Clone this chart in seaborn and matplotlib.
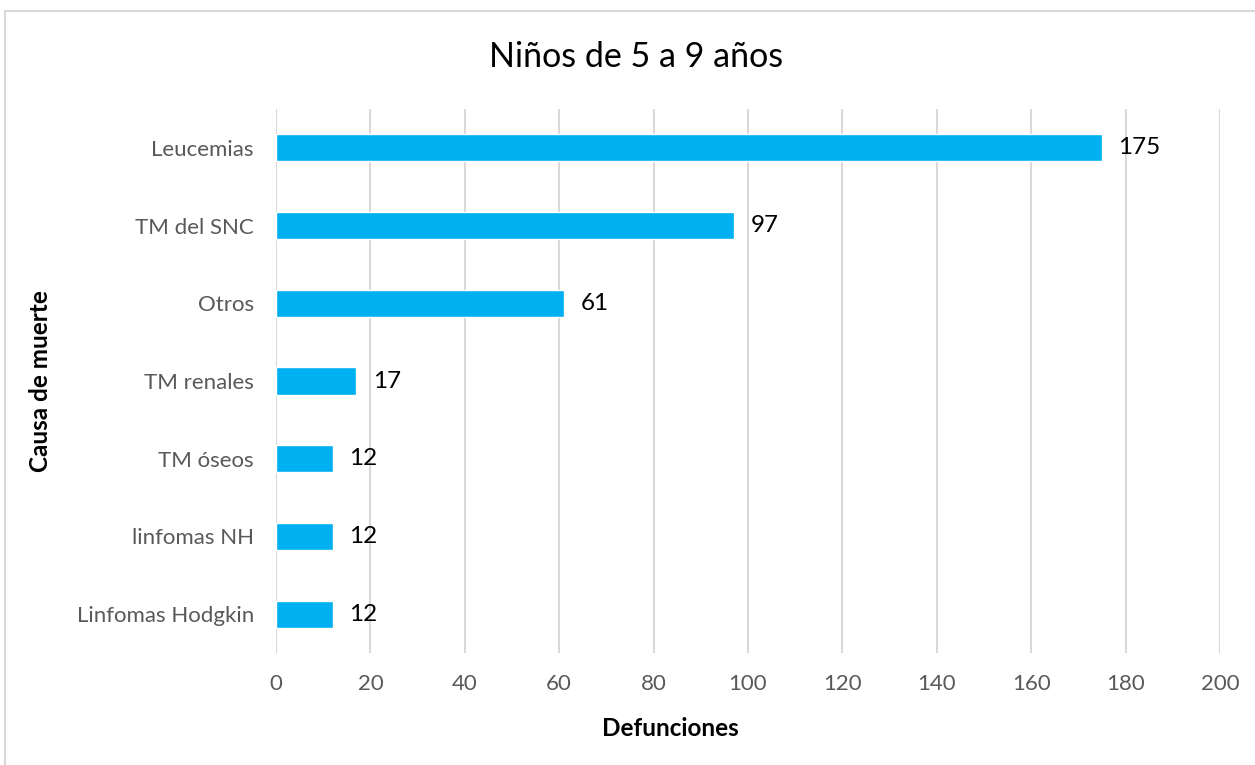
import matplotlib
matplotlib.use("Agg")
import matplotlib.pyplot as plt
from matplotlib.lines import Line2D
import seaborn as sns
import pandas as pd

# Causes of death, children aged 5 to 9
causas = ["Leucemias", "TM del SNC", "Otros", "TM renales", "TM óseos",
          "linfomas NH", "Linfomas Hodgkin"]
defunciones = [175, 97, 61, 17, 12, 12, 12]
x_ticks = [0, 20, 40, 60, 80, 100, 120, 140, 160, 180, 200]

df = pd.DataFrame({"Causa": causas, "Defunciones": defunciones})

sns.set_theme(style="white")
plt.rcParams["font.family"] = ["Lato", "DejaVu Sans"]

fig = plt.figure(figsize=(12.55, 7.65), dpi=100)
ax = fig.add_axes([0.2199, 0.1464, 0.7522, 0.7111])

sns.barplot(data=df, x="Defunciones", y="Causa", order=causas, orient="h",
            color="#00B0F0", saturation=1, width=0.35, ax=ax, zorder=3)

ax.set_xlim(0, 200)
ax.set_xticks(x_ticks)
ax.set_xticklabels([str(t) for t in x_ticks])
ax.set_ylim(len(causas) - 0.5, -0.5)

ax.grid(axis="x", color="#D9D9D9", linewidth=1.5, zorder=0)
ax.grid(axis="y", visible=False)
for s in ax.spines.values():
    s.set_visible(False)

ax.tick_params(axis="both", length=0, labelcolor="#595959", labelsize=16)
ax.tick_params(axis="x", pad=15)
ax.tick_params(axis="y", pad=16)

for i, v in enumerate(defunciones):
    ax.text(v + 3.5, i, str(v), va="center", ha="left", fontsize=17.5, color="black")

ax.set_xlabel("Defunciones", fontsize=17.5, fontweight="bold", color="black")
ax.xaxis.set_label_coords(0.418, -0.117)
ax.set_ylabel("Causa de muerte", fontsize=17.5, fontweight="bold", color="black", labelpad=18)

fig.text(0.507, 0.925, "Niños de 5 a 9 años", ha="center", va="center",
         fontsize=24.5, color="black")

# thin frame lines along the top and left edge of the figure
fig.add_artist(Line2D([5 / 1255, 1.0], [1 - 11 / 765, 1 - 11 / 765],
                      transform=fig.transFigure, color="#D9D9D9", linewidth=1.5))
fig.add_artist(Line2D([5 / 1255, 5 / 1255], [0, 1 - 11 / 765],
                      transform=fig.transFigure, color="#D9D9D9", linewidth=1.5))

fig.savefig("out.png", dpi=100, facecolor="white")
